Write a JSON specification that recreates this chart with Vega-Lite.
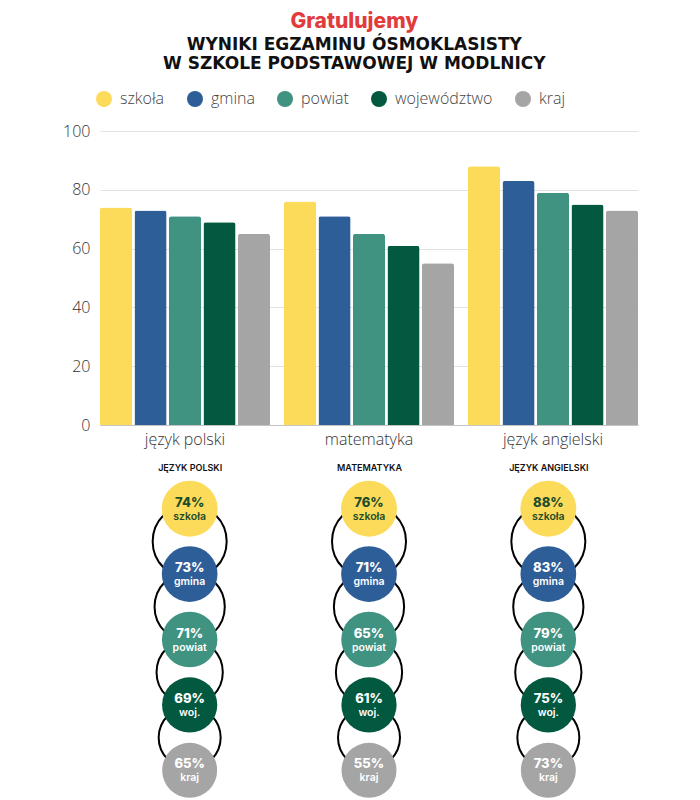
{
  "$schema": "https://vega.github.io/schema/vega-lite/v6.json",
  "background": "white",
  "padding": {"left": 62, "top": 11, "right": 5, "bottom": 0},
  "title": {
    "text": "Gratulujemy",
    "subtitle": ["WYNIKI EGZAMINU ÓSMOKLASISTY", "W SZKOLE PODSTAWOWEJ W MODLNICY"],
    "anchor": "middle",
    "frame": "bounds",
    "dx": 4,
    "font": "Inter",
    "fontSize": 21,
    "fontWeight": 800,
    "color": "#E23B3B",
    "subtitleFont": "DejaVu Sans",
    "subtitleFontSize": 17,
    "subtitleFontWeight": "bold",
    "subtitleColor": "#111111",
    "subtitleLineHeight": 19,
    "subtitlePadding": 5,
    "offset": 19
  },
  "datasets": {
    "wyniki": [
      {"przedmiot": "język polski", "poziom": "szkoła", "skrot": "szkoła", "wynik": 74},
      {"przedmiot": "język polski", "poziom": "gmina", "skrot": "gmina", "wynik": 73},
      {"przedmiot": "język polski", "poziom": "powiat", "skrot": "powiat", "wynik": 71},
      {"przedmiot": "język polski", "poziom": "województwo", "skrot": "woj.", "wynik": 69},
      {"przedmiot": "język polski", "poziom": "kraj", "skrot": "kraj", "wynik": 65},
      {"przedmiot": "matematyka", "poziom": "szkoła", "skrot": "szkoła", "wynik": 76},
      {"przedmiot": "matematyka", "poziom": "gmina", "skrot": "gmina", "wynik": 71},
      {"przedmiot": "matematyka", "poziom": "powiat", "skrot": "powiat", "wynik": 65},
      {"przedmiot": "matematyka", "poziom": "województwo", "skrot": "woj.", "wynik": 61},
      {"przedmiot": "matematyka", "poziom": "kraj", "skrot": "kraj", "wynik": 55},
      {"przedmiot": "język angielski", "poziom": "szkoła", "skrot": "szkoła", "wynik": 88},
      {"przedmiot": "język angielski", "poziom": "gmina", "skrot": "gmina", "wynik": 83},
      {"przedmiot": "język angielski", "poziom": "powiat", "skrot": "powiat", "wynik": 79},
      {"przedmiot": "język angielski", "poziom": "województwo", "skrot": "woj.", "wynik": 75},
      {"przedmiot": "język angielski", "poziom": "kraj", "skrot": "kraj", "wynik": 73}
    ]
  },
  "spacing": 16,
  "resolve": {"scale": {"x": "independent", "y": "independent", "size": "independent"}},
  "vconcat": [
    {
      "width": 538,
      "height": 294,
      "data": {"name": "wyniki"},
      "mark": {"type": "bar", "cornerRadiusTopLeft": 2.5, "cornerRadiusTopRight": 2.5},
      "encoding": {
        "x": {
          "field": "przedmiot",
          "type": "nominal",
          "sort": ["język polski", "matematyka", "język angielski"],
          "scale": {"paddingInner": 0.076, "paddingOuter": 0},
          "axis": {
            "title": null,
            "labelAngle": 0,
            "ticks": false,
            "domainColor": "#c4c4c4",
            "labelFont": "Open Sans",
            "labelFontSize": 16,
            "labelFontWeight": 300,
            "labelColor": "#333333",
            "labelPadding": 6
          }
        },
        "xOffset": {
          "field": "poziom",
          "type": "nominal",
          "sort": ["szkoła", "gmina", "powiat", "województwo", "kraj"],
          "scale": {"paddingInner": 0.07, "paddingOuter": 0}
        },
        "y": {
          "field": "wynik",
          "type": "quantitative",
          "scale": {"domain": [0, 100]},
          "axis": {
            "title": null,
            "values": [0, 20, 40, 60, 80, 100],
            "domain": false,
            "ticks": false,
            "gridColor": "#e2e2e2",
            "labelFont": "Open Sans",
            "labelFontSize": 16,
            "labelFontWeight": 300,
            "labelColor": "#333333",
            "labelPadding": 10
          }
        },
        "color": {
          "field": "poziom",
          "type": "nominal",
          "sort": ["szkoła", "gmina", "powiat", "województwo", "kraj"],
          "scale": {
            "domain": ["szkoła", "gmina", "powiat", "województwo", "kraj"],
            "range": ["#FDDB5A", "#2E5E98", "#3F9380", "#02593F", "#A5A5A5"]
          },
          "legend": {
            "title": null,
            "orient": "none",
            "direction": "horizontal",
            "legendX": -4,
            "legendY": -40,
            "symbolType": "circle",
            "symbolSize": 256,
            "symbolStrokeWidth": 0,
            "labelFont": "Open Sans",
            "labelFontSize": 16,
            "labelFontWeight": 300,
            "labelColor": "#444444",
            "labelOffset": 8,
            "columnPadding": 22
          }
        }
      }
    },
    {
      "width": 538,
      "height": 327,
      "data": {"name": "wyniki"},
      "transform": [{"calculate": "datum.wynik + '%'", "as": "procent"}],
      "encoding": {
        "x": {
          "field": "przedmiot",
          "type": "nominal",
          "sort": ["język polski", "matematyka", "język angielski"],
          "scale": {"paddingInner": 0.076, "paddingOuter": 0},
          "axis": {
            "orient": "top",
            "title": null,
            "domain": false,
            "ticks": false,
            "labelAngle": 0,
            "labelExpr": "upper(datum.label)",
            "labelFont": "Inter",
            "labelFontSize": 9,
            "labelFontWeight": 600,
            "labelColor": "#111111",
            "labelPadding": 4
          }
        },
        "y": {
          "field": "poziom",
          "type": "nominal",
          "sort": ["szkoła", "gmina", "powiat", "województwo", "kraj"],
          "scale": {"type": "band", "paddingInner": 0, "paddingOuter": 0},
          "axis": null
        }
      },
      "layer": [
        {
          "transform": [{"filter": "datum.poziom !== 'kraj'"}],
          "mark": {"type": "point", "shape": "circle", "filled": false, "stroke": "#000000", "strokeWidth": 2, "opacity": 1},
          "encoding": {
            "y": {
              "field": "poziom",
              "type": "nominal",
              "sort": ["szkoła", "gmina", "powiat", "województwo", "kraj"],
              "bandPosition": 1
            },
            "size": {
              "field": "poziom",
              "type": "ordinal",
              "scale": {"domain": ["szkoła", "gmina", "powiat", "województwo"], "range": [5476, 3844, 3249, 2304]},
              "legend": null
            }
          }
        },
        {
          "mark": {"type": "point", "shape": "circle", "filled": true, "opacity": 1, "strokeWidth": 0},
          "encoding": {
            "color": {
              "field": "poziom",
              "type": "nominal",
              "sort": ["szkoła", "gmina", "powiat", "województwo", "kraj"]
            },
            "size": {
              "field": "poziom",
              "type": "ordinal",
              "scale": {"domain": ["szkoła", "gmina", "powiat", "województwo", "kraj"], "range": [3136, 3025, 2916, 2304, 1849]},
              "legend": null
            }
          }
        },
        {
          "mark": {"type": "text", "font": "Inter", "fontSize": 13, "fontWeight": 800, "dy": -6},
          "encoding": {
            "text": {"field": "procent"},
            "color": {"condition": {"test": "datum.poziom === 'szkoła'", "value": "#1E4D2B"}, "value": "#ffffff"}
          }
        },
        {
          "mark": {"type": "text", "font": "Inter", "fontSize": 10.5, "fontWeight": 600, "dy": 8},
          "encoding": {
            "text": {"field": "skrot"},
            "color": {"condition": {"test": "datum.poziom === 'szkoła'", "value": "#1E4D2B"}, "value": "#ffffff"}
          }
        }
      ],
      "resolve": {"scale": {"size": "independent"}}
    }
  ],
  "config": {
    "view": {"stroke": null}
  }
}
